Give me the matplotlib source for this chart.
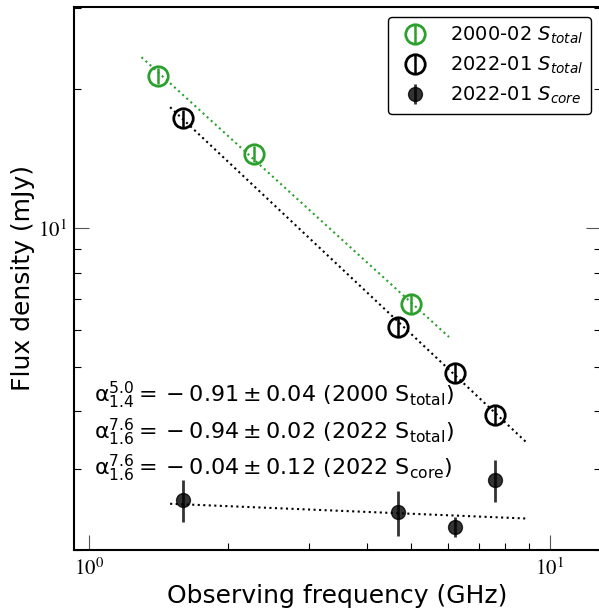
import numpy as np
import matplotlib.pyplot as plt

# ---------------- data ----------------
freq_2000 = [1.41, 2.28, 4.99]          # GHz
flux_2000 = [21.4, 14.5, 6.84]          # mJy
err_2000 = [0.9, 0.6, 0.3]

freq_2022 = [1.60, 4.68, 6.22, 7.60]
flux_2022 = [17.3, 6.10, 4.85, 3.93]
err_2022 = [0.75, 0.27, 0.22, 0.18]

core_2022 = [2.57, 2.42, 2.245, 2.84]
core_err = [0.27, 0.27, 0.11, 0.30]

# power-law fit lines (end points)
fit_2000_x = [1.30, 6.04]
fit_2000_y = [23.5, 5.80]
fit_2022_x = [1.50, 8.96]
fit_2022_y = [18.3, 3.40]
fit_core_x = [1.50, 8.96]
fit_core_y = [2.52, 2.34]

green = '#2ca02c'

# ---------------- plot ----------------
fig = plt.figure(figsize=(5.99, 6.08), dpi=100)
ax = fig.add_axes([0.1235, 0.0954, 0.8798, 0.8931])

ax.errorbar(freq_2000, flux_2000, yerr=err_2000, fmt='o', color=green,
            mfc='none', ms=14, mew=2, elinewidth=1.8, capsize=0,
            label='2000-02 $S_{total}$')
ax.errorbar(freq_2022, flux_2022, yerr=err_2022, fmt='o', color='k',
            mfc='none', ms=14, mew=2, elinewidth=1.8, capsize=0,
            label='2022-01 $S_{total}$')
ax.errorbar(freq_2022, core_2022, yerr=core_err, fmt='o', color='k',
            ms=10, elinewidth=2, capsize=0, alpha=0.8,
            label='2022-01 $S_{core}$')

ax.plot(fit_2000_x, fit_2000_y, ':', color=green, lw=1.5)
ax.plot(fit_2022_x, fit_2022_y, ':', color='k', lw=1.5)
ax.plot(fit_core_x, fit_core_y, ':', color='k', lw=1.5)

ax.set_xscale('log')
ax.set_yscale('log')
ax.set_xlim(0.928, 12.9)
ax.set_ylim(2.0, 30.2)

ax.set_xticks([1, 10], labels=[r'$10^{0}$', r'$10^{1}$'],
              math_fontfamily='stix', fontsize=15)
ax.set_yticks([10], labels=[r'$10^{1}$'], math_fontfamily='stix', fontsize=15)
ax.minorticks_on()
ax.tick_params(which='both', direction='in', right=True, top=False)
ax.tick_params(which='major', length=11, width=0.8, color='#555555', pad=5)
ax.tick_params(which='minor', length=5, width=0.8, labelleft=False,
               labelbottom=False)

for sp in ax.spines.values():
    sp.set_linewidth(1.5)

ax.set_xlabel('Observing frequency (GHz)', fontsize=18, labelpad=4)
ax.set_ylabel('Flux density (mJy)', fontsize=18, labelpad=2)

alpha_lines = [
    r'$\mathrm{\alpha}_{1.4}^{5.0} = {}-0.91 \pm 0.04$ (2000 S$_{\rm total}$)',
    r'$\mathrm{\alpha}_{1.6}^{7.6} = {}-0.94 \pm 0.02$ (2022 S$_{\rm total}$)',
    r'$\mathrm{\alpha}_{1.6}^{7.6} = {}-0.04 \pm 0.12$ (2022 S$_{\rm core}$)',
]
for txt, yy in zip(alpha_lines, [0.285, 0.217, 0.151]):
    ax.text(0.038, yy, txt, transform=ax.transAxes, fontsize=16,
            va='center')

leg = ax.legend(loc='upper right', fontsize=14, frameon=True, fancybox=True,
                bbox_to_anchor=(1.0, 1.0), labelspacing=0.45,
                borderpad=0.4)
leg.get_frame().set_edgecolor('k')
leg.get_frame().set_alpha(1)

fig.savefig('out.png', dpi=100)
